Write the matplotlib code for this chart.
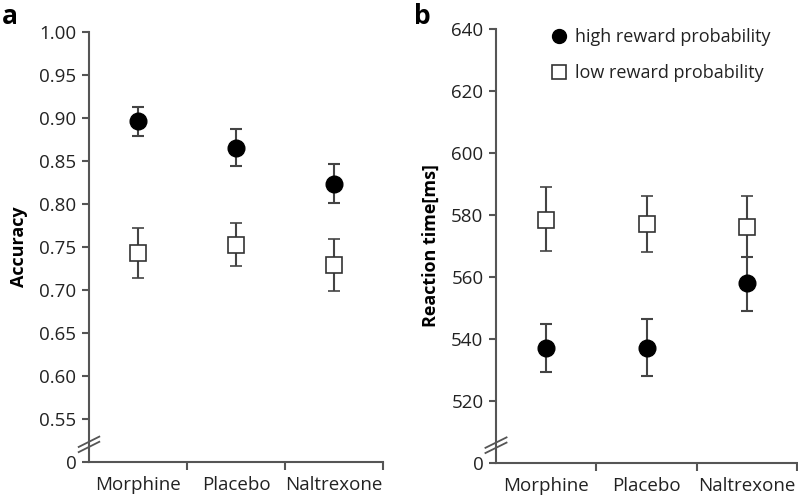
import matplotlib
matplotlib.use("Agg")
import matplotlib.pyplot as plt
import numpy as np

plt.rcParams['font.family'] = ['Open Sans', 'DejaVu Sans']

categories = ["Morphine", "Placebo", "Naltrexone"]

acc_high = [0.896, 0.865, 0.823]
acc_high_err_up = [0.017, 0.022, 0.023]
acc_high_err_dn = [0.017, 0.021, 0.022]
acc_low = [0.743, 0.752, 0.729]
acc_low_err_up = [0.029, 0.026, 0.030]
acc_low_err_dn = [0.029, 0.024, 0.030]

rt_high = [537.0, 537.0, 558.0]
rt_high_err_up = [8.0, 9.5, 8.5]
rt_high_err_dn = [7.5, 9.0, 9.0]
rt_low = [578.5, 577.0, 576.0]
rt_low_err_up = [10.5, 9.0, 10.0]
rt_low_err_dn = [10.0, 9.0, 9.5]

acc_ticks = [0.55, 0.60, 0.65, 0.70, 0.75, 0.80, 0.85, 0.90, 0.95, 1.00]
rt_ticks = [520, 540, 560, 580, 600, 620, 640]

W, H = 798, 501
fig = plt.figure(figsize=(W/100, H/100), dpi=100)

ax1 = fig.add_axes([89/W, 1-462/H, 294/W, 430/H])
ax2 = fig.add_axes([496/W, 1-463/H, 301/W, 434/H])

spine_col = '#555555'
err_col = '#444444'
txt_col = '#222222'
x = np.arange(len(categories))

def style(ax, ylo, yhi, ticks, fmt):
    ax.set_xlim(-0.5, 2.5)
    ax.set_ylim(ylo, yhi)
    for s in ['top', 'right']:
        ax.spines[s].set_visible(False)
    for s in ['left', 'bottom']:
        ax.spines[s].set_color(spine_col)
        ax.spines[s].set_linewidth(1.5)
    ax.set_yticks([ylo] + ticks)
    ax.set_yticklabels(['0'] + [fmt(t) for t in ticks], fontsize=13.5, color=txt_col)
    ax.set_xticks([0.5, 1.5, 2.5], minor=False)
    ax.set_xticklabels([])
    ax.set_xticks(x, minor=True)
    ax.set_xticklabels(categories, minor=True, fontsize=13.5, color=txt_col)
    ax.tick_params(axis='x', which='major', length=6, width=1.5, color=spine_col, direction='out')
    ax.tick_params(axis='x', which='minor', length=0, pad=10)
    ax.tick_params(axis='y', length=5, width=1.5, color=spine_col, direction='out', pad=4)
    # break marks
    yb = 0.035
    for dy in (0.0, 0.012):
        ax.plot([-0.035, 0.035], [yb + dy - 0.012, yb + dy + 0.012], transform=ax.transAxes,
                color=spine_col, lw=1.3, clip_on=False)

style(ax1, 0.50, 1.00, acc_ticks, lambda t: f"{t:.2f}")
style(ax2, 500, 640, rt_ticks, lambda t: f"{t:d}")

ekw = dict(ecolor=err_col, elinewidth=1.5, capsize=4, capthick=1.5, linestyle='none')

ax1.errorbar(x, acc_low, yerr=[acc_low_err_dn, acc_low_err_up], fmt='s', ms=11,
             mfc='white', mec='#333333', mew=1.2, **ekw)
ax1.errorbar(x, acc_high, yerr=[acc_high_err_dn, acc_high_err_up], fmt='o', ms=12,
             mfc='black', mec='black', **ekw)

ax2.errorbar(x, rt_low, yerr=[rt_low_err_dn, rt_low_err_up], fmt='s', ms=11,
             mfc='white', mec='#333333', mew=1.2, **ekw)
ax2.errorbar(x, rt_high, yerr=[rt_high_err_dn, rt_high_err_up], fmt='o', ms=12,
             mfc='black', mec='black', **ekw)

from matplotlib.lines import Line2D
lh = [Line2D([], [], marker='o', ls='none', ms=10, mfc='black', mec='black'),
      Line2D([], [], marker='s', ls='none', ms=10, mfc='white', mec='#333333', mew=1.2)]
ax2.legend(lh, ['high reward probability', 'low reward probability'],
           loc='upper left', bbox_to_anchor=(0.12, 1.04), frameon=False,
           fontsize=13, handletextpad=0.25, labelspacing=1.0, handlelength=1.2,
           labelcolor=txt_col)

ax1.set_ylabel('Accuracy', fontsize=13, fontweight='bold', labelpad=8)
ax2.set_ylabel('Reaction time[ms]', fontsize=13, fontweight='bold', labelpad=8)

fig.text(2/W, 1-16/H, 'a', fontsize=19, fontweight='bold', va='center', ha='left')
fig.text(414/W, 1-16/H, 'b', fontsize=19, fontweight='bold', va='center', ha='left')

fig.savefig('out.png', dpi=100)
